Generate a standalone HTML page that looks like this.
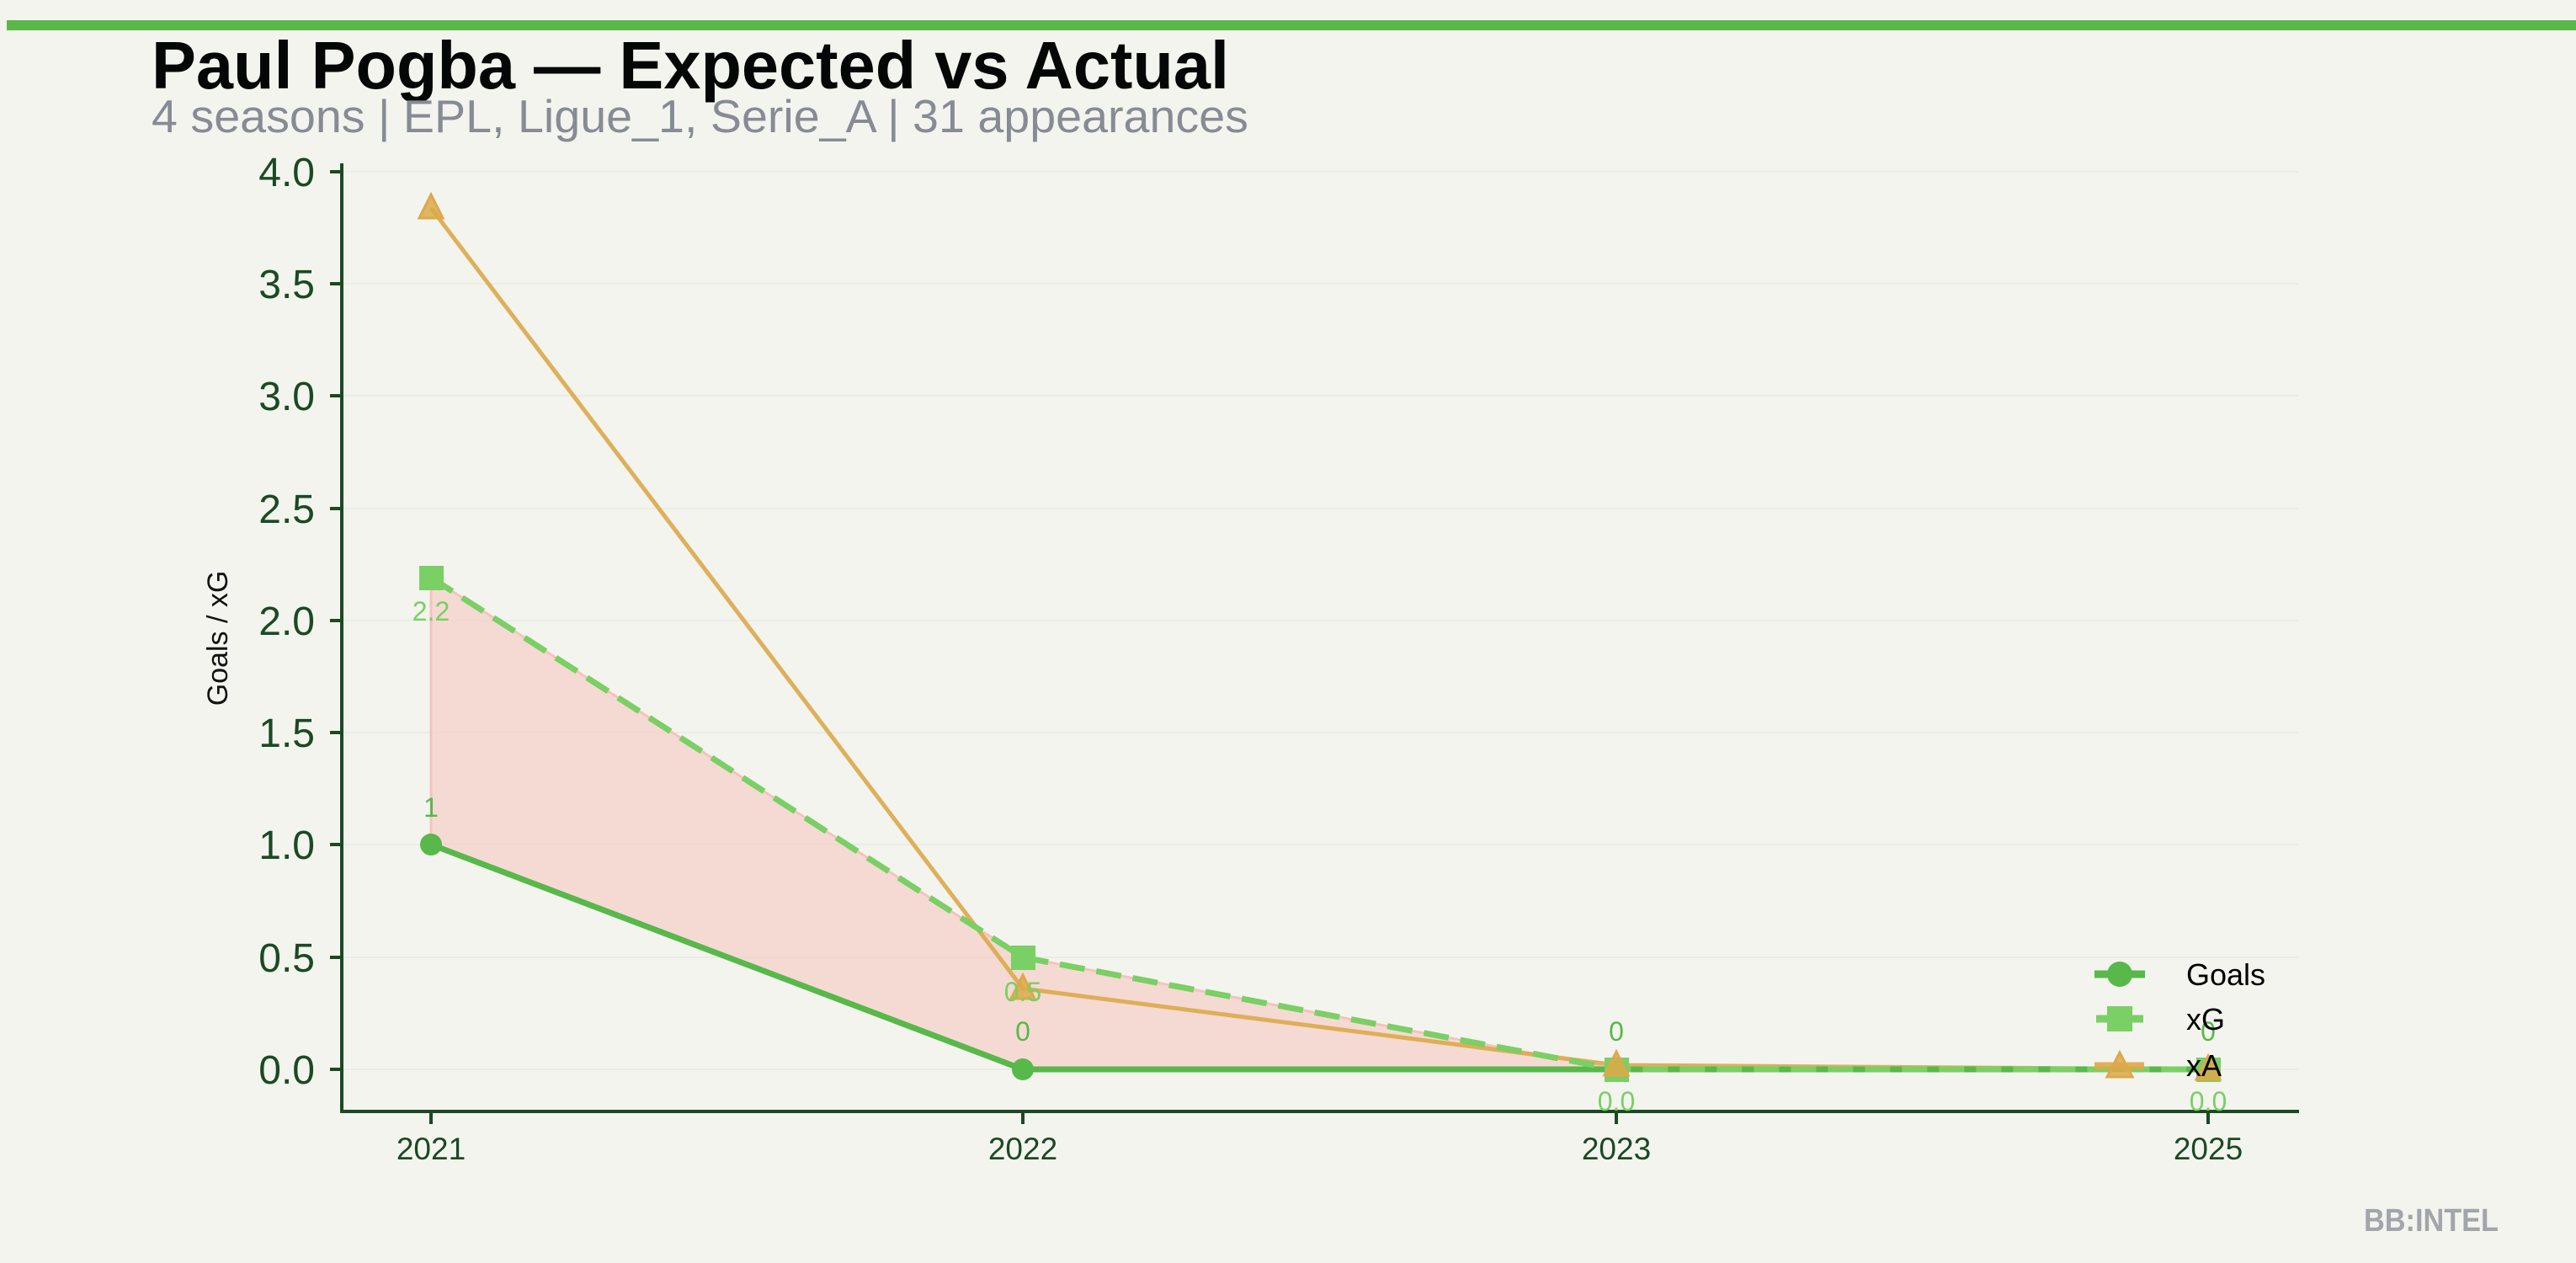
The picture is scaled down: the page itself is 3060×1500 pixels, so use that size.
<!DOCTYPE html>
<html><head><meta charset="utf-8"><style>
html,body{margin:0;padding:0;background:#f4f4ef;}
svg{display:block;}
</style></head><body>
<svg width="3060" height="1500" viewBox="0 0 3060 1500" xmlns="http://www.w3.org/2000/svg" font-family="Liberation Sans, sans-serif">
<rect width="3060" height="1500" fill="#f4f4ef"/>
<rect x="8" y="24" width="3052" height="12" fill="#5ab84a"/>
<text x="180" y="105" font-size="80" font-weight="bold" fill="#050707" textLength="1280" lengthAdjust="spacingAndGlyphs">Paul Pogba — Expected vs Actual</text>
<text x="180" y="157" font-size="55" fill="#868b94" textLength="1303" lengthAdjust="spacingAndGlyphs">4 seasons | EPL, Ligue_1, Serie_A | 31 appearances</text>
<!-- grid -->
<g stroke="#ecece6" stroke-width="2">
<line x1="406" y1="204" x2="2731" y2="204"/><line x1="406" y1="337" x2="2731" y2="337"/>
<line x1="406" y1="470" x2="2731" y2="470"/><line x1="406" y1="604" x2="2731" y2="604"/>
<line x1="406" y1="737" x2="2731" y2="737"/><line x1="406" y1="870" x2="2731" y2="870"/>
<line x1="406" y1="1003" x2="2731" y2="1003"/><line x1="406" y1="1137" x2="2731" y2="1137"/>
<line x1="406" y1="1270" x2="2731" y2="1270"/>
</g>
<!-- axes -->
<g stroke="#1a4a22" stroke-width="4">
<line x1="406" y1="194" x2="406" y2="1321"/><line x1="404" y1="1320" x2="2731" y2="1320"/>
<line x1="392" y1="204" x2="406" y2="204"/><line x1="392" y1="337" x2="406" y2="337"/>
<line x1="392" y1="470" x2="406" y2="470"/><line x1="392" y1="604" x2="406" y2="604"/>
<line x1="392" y1="737" x2="406" y2="737"/><line x1="392" y1="870" x2="406" y2="870"/>
<line x1="392" y1="1003" x2="406" y2="1003"/><line x1="392" y1="1137" x2="406" y2="1137"/>
<line x1="392" y1="1270" x2="406" y2="1270"/>
<line x1="512" y1="1320" x2="512" y2="1335"/><line x1="1215" y1="1320" x2="1215" y2="1335"/>
<line x1="1920" y1="1320" x2="1920" y2="1335"/><line x1="2623" y1="1320" x2="2623" y2="1335"/>
</g>
<g fill="#1a4a22" font-size="48" text-anchor="end">
<text x="374" y="221">4.0</text><text x="374" y="354">3.5</text><text x="374" y="487">3.0</text>
<text x="374" y="621">2.5</text><text x="374" y="754">2.0</text><text x="374" y="887">1.5</text>
<text x="374" y="1020">1.0</text><text x="374" y="1154">0.5</text><text x="374" y="1287">0.0</text>
</g>
<g fill="#1a4a22" font-size="37" text-anchor="middle">
<text x="512" y="1377">2021</text><text x="1215" y="1377">2022</text><text x="1920" y="1377">2023</text><text x="2623" y="1377">2025</text>
</g>
<text transform="translate(270,758) rotate(-90)" font-size="34" text-anchor="middle" fill="#111">Goals / xG</text>
<!-- fill -->
<polygon points="512,686 1215,1137 1920,1270 2623,1270 2623,1270 1920,1270 1215,1270 512,1003" fill="#f5cfc8" fill-opacity="0.7" stroke="#f3c4bc" stroke-width="3"/>
<!-- xA -->
<polyline points="512,247 1215,1174 1920,1265 2623,1270" fill="none" stroke="#dca94a" stroke-width="5" stroke-opacity="0.9"/>
<!-- goals -->
<polyline points="512,1003 1215,1270 1920,1270 2623,1270" fill="none" stroke="#58b84a" stroke-width="7"/>
<circle cx="512" cy="1003" r="13" fill="#58b84a"/><circle cx="1215" cy="1270" r="13" fill="#58b84a"/>
<circle cx="1920" cy="1270" r="13" fill="#58b84a"/><circle cx="2623" cy="1270" r="13" fill="#58b84a"/>
<!-- xG -->
<polyline points="512,686 1215,1137 1920,1270 2623,1270" fill="none" stroke="#7acf65" stroke-width="7" stroke-dasharray="30,14"/>
<rect x="498" y="672" width="29" height="29" fill="#7acf65"/><rect x="1201" y="1123" width="29" height="29" fill="#7acf65"/>
<rect x="1906" y="1256" width="29" height="29" fill="#7acf65"/><rect x="2609" y="1256" width="29" height="29" fill="#7acf65"/>
<!-- xA markers -->
<g fill="#dca94a" fill-opacity="0.85" stroke="#dca94a" stroke-width="3">
<polygon points="512,231 498,259 526,259"/><polygon points="1215,1158 1201,1186 1229,1186"/>
<polygon points="1920,1249 1906,1277 1934,1277"/><polygon points="2623,1254 2609,1282 2637,1282"/>
</g>
<!-- annotations -->
<g font-size="32" text-anchor="middle">
<text x="512" y="970" fill="#58b84a">1</text><text x="1215" y="1236" fill="#58b84a">0</text>
<text x="1920" y="1236" fill="#58b84a">0</text><text x="2623" y="1236" fill="#58b84a">0</text>
<text x="512" y="737" fill="#7acf65">2.2</text><text x="1215" y="1189" fill="#7acf65">0.5</text>
<text x="1920" y="1319" fill="#7acf65">0.0</text><text x="2623" y="1319" fill="#7acf65">0.0</text>
</g>
<!-- legend -->
<line x1="2488" y1="1157" x2="2548" y2="1157" stroke="#58b84a" stroke-width="9"/>
<circle cx="2518" cy="1157" r="15" fill="#58b84a"/>
<line x1="2490" y1="1210" x2="2546" y2="1210" stroke="#7acf65" stroke-width="9"/>
<rect x="2503" y="1195" width="30" height="30" fill="#7acf65"/>
<line x1="2488" y1="1266" x2="2547" y2="1266" stroke="#dca94a" stroke-width="9" stroke-opacity="0.9"/>
<polygon points="2518,1250 2503,1279 2533,1279" fill="#dca94a" fill-opacity="0.85" stroke="#dca94a" stroke-width="3"/>
<g font-size="36" fill="#000">
<text x="2597" y="1170">Goals</text><text x="2597" y="1223">xG</text><text x="2597" y="1278">xA</text>
</g>
<text x="2808" y="1462" font-size="38" font-weight="bold" fill="#a2a5ab" textLength="160" lengthAdjust="spacingAndGlyphs">BB:INTEL</text>
</svg>
</body></html>
